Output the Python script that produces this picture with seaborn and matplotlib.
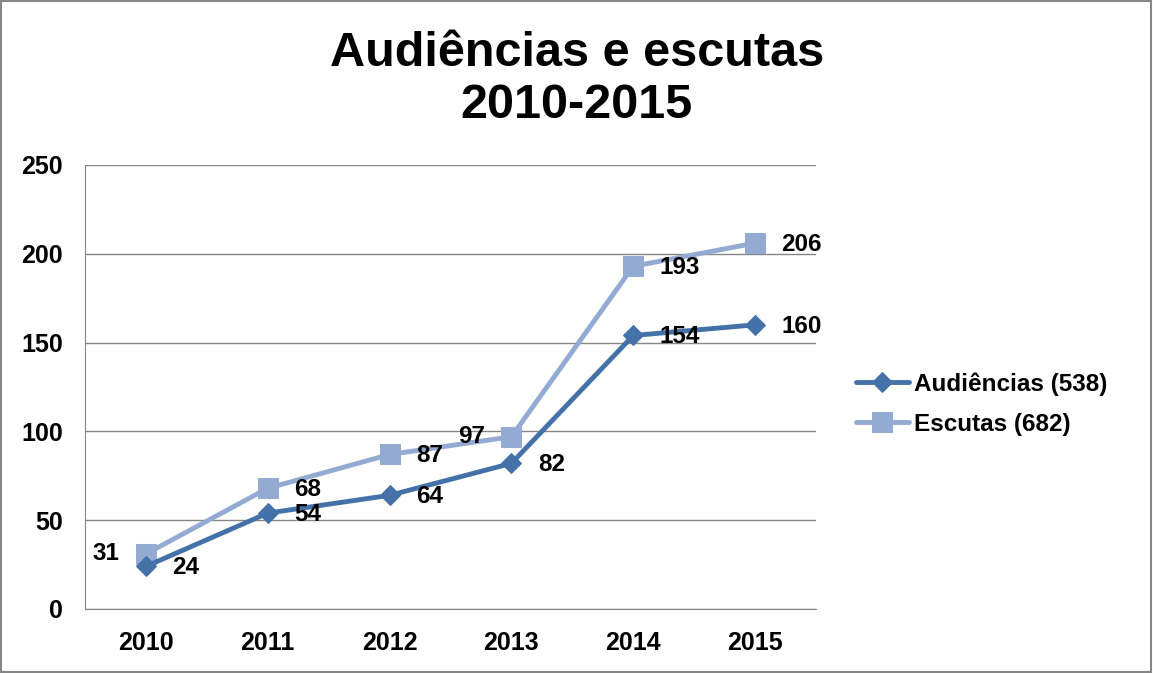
import matplotlib.pyplot as plt
import seaborn as sns
import pandas as pd

anos = ["2010", "2011", "2012", "2013", "2014", "2015"]
audiencias = [24, 54, 64, 82, 154, 160]
escutas = [31, 68, 87, 97, 193, 206]
nomes = ["Audiências (538)", "Escutas (682)"]

sns.set_style("white")
plt.rcParams['font.family'] = ['Liberation Sans', 'DejaVu Sans']
plt.rcParams['text.color'] = 'black'
plt.rcParams['xtick.labelcolor'] = 'black'
plt.rcParams['ytick.labelcolor'] = 'black'

df = pd.DataFrame({
    "pos": list(range(len(anos))) * 2,
    "valor": audiencias + escutas,
    "serie": [nomes[0]] * len(anos) + [nomes[1]] * len(anos),
})

fig = plt.figure(figsize=(11.53, 6.73), dpi=100)
ax = fig.add_axes([85 / 1153, 1 - 609 / 673, 731 / 1153, 444 / 673])

cores = ["#4472A8", "#93ABD3"]
marcadores = {nomes[0]: "D", nomes[1]: "s"}
# escutas first so audiências draws on top
for nome, cor, ms in [(nomes[1], cores[1], 14), (nomes[0], cores[0], 10.5)]:
    sns.lineplot(data=df[df.serie == nome], x="pos", y="valor", ax=ax,
                 color=cor, linewidth=3.5, marker=marcadores[nome],
                 markersize=ms, markeredgecolor=cor, label=nome,
                 zorder=3 if nome == nomes[0] else 2)

# data labels
lbl = dict(fontsize=17.5, fontweight="bold", textcoords="offset points",
           va="center")
for i, v in enumerate(audiencias):
    ax.annotate(str(v), (i, v), xytext=(19, -1), ha="left", **lbl)
for i, v in enumerate(escutas):
    if i in (0, 3):
        ax.annotate(str(v), (i, v), xytext=(-19, 0), ha="right", **lbl)
    else:
        ax.annotate(str(v), (i, v), xytext=(19, -1), ha="left", **lbl)

ax.set_xlim(-0.5, 5.5)
ax.set_ylim(0, 250)
ax.set_yticks(range(0, 251, 50))
ax.set_xticks(range(len(anos)))
ax.set_xticklabels(anos)
ax.set_xticks([i + 0.5 for i in range(-1, 6)], minor=True)
ax.tick_params(axis="x", which="major", length=0, pad=16, labelsize=18)
ax.tick_params(axis="x", which="minor", length=5, color="#868686",
               direction="out", width=1)
ax.tick_params(axis="y", length=5, color="#868686", direction="out",
               labelsize=18, pad=11, width=1)
for t in ax.get_xticklabels() + ax.get_yticklabels():
    t.set_fontweight("bold")
ax.grid(axis="y", color="#868686", linewidth=1)
ax.set_axisbelow(True)
for s in ["top", "right"]:
    ax.spines[s].set_visible(False)
for s in ["left", "bottom"]:
    ax.spines[s].set_color("#868686")
ax.set_xlabel("")
ax.set_ylabel("")

h, l = ax.get_legend_handles_labels()
ax.legend_.remove()
order = [l.index(nomes[0]), l.index(nomes[1])]
fig.legend([h[k] for k in order], [l[k] for k in order],
           loc="center left", bbox_to_anchor=(846 / 1153, 1 - 404 / 673),
           frameon=False, prop=dict(size=17.5, weight="bold"),
           handlelength=2.2, handletextpad=0.2, labelspacing=0.7,
           borderaxespad=0)

fig.text(577 / 1153, 1 - 80 / 673, "Audiências e escutas\n2010-2015",
         ha="center", va="center", fontsize=35, fontweight="bold",
         linespacing=1.2)

fig.patches.append(plt.Rectangle((0.001, 0.001), 0.997, 0.997,
                                 transform=fig.transFigure, fill=False,
                                 edgecolor="#868686", linewidth=1.5))

fig.savefig("out.png", dpi=100)
